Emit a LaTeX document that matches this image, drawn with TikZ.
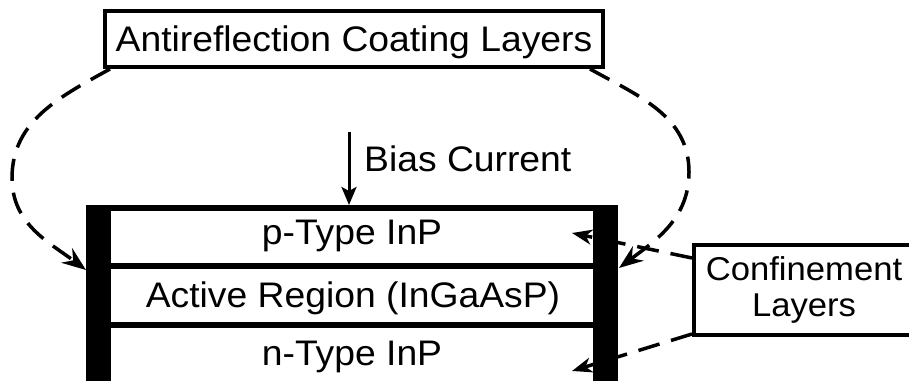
\documentclass[tikz,border=0pt]{standalone}
\usepackage{fontspec}
\setmainfont{Liberation Sans}[FakeStretch=1.05]
\usetikzlibrary{arrows.meta,calc}
\tikzset{
  txt/.style={font=\fontsize{35.5pt}{36pt}\selectfont, inner sep=0pt},
  boxnode/.style={draw, line width=4pt, txt},
  dashline/.style={line width=3.5pt, dash pattern=on 22pt off 12pt},
  bigtip/.style={-{Stealth[length=24pt,width=18pt,inset=8pt]}},
  smalltip/.style={-{Stealth[length=20pt,width=15pt,inset=6pt]}},
  layerline/.style={line width=6pt},
}
\begin{document}
\begin{tikzpicture}[x=1pt,y=1pt]
\path[use as bounding box] (0,0) rectangle (909,380);

% boxes
\node[boxnode, minimum width=498pt, minimum height=56pt, text height=25.4pt, text depth=0pt] (ar) at (354,341) {Antireflection Coating Layers};
\node[boxnode, anchor=north west, minimum width=220pt, minimum height=90pt, align=center, font=\fontsize{33pt}{36pt}\selectfont] (conf) at (692,137) {Confinement\\Layers};

% stack frame
\node[inner sep=0pt, minimum width=532pt, minimum height=180pt, anchor=north west] (stack) at (86,175) {};

% coordinates
\coordinate (arLs) at ($(ar.south west)+(7,0)$);
\coordinate (arLx) at (12,202);
\coordinate (arLt) at (86,110);
\coordinate (arRs) at ($(ar.south east)+(-15,0)$);
\coordinate (arRx) at (689,208);
\coordinate (arRt) at (619,112);
\coordinate (cU) at ($(conf.north west)+(0,-15)$);
\coordinate (cUt) at (572,147);
\coordinate (cL) at ($(conf.south west)+(0,3)$);
\coordinate (cLt) at (572,9);
\coordinate (bs) at (349,248);

% confinement connectors (pass under the bar)
\draw[dashline, smalltip] (cU) -- (cUt);
\draw[dashline, smalltip] (cL) -- (cLt);

% bars and layer lines
\fill (86,-5) rectangle (111,175);
\fill (593,-5) rectangle (618,175);
\draw[layerline] (86,172) -- (618,172);
\draw[layerline] (111,113.5) -- (593,113.5);
\draw[layerline] (111,55) -- (593,55);

% layer labels
\node[txt, anchor=base] (pt) at (352,135) {p-Type InP};
\node[txt, anchor=base] (ac) at (353,73) {Active Region (InGaAsP)};
\node[txt, anchor=base] (nt) at (352,15) {n-Type InP};

% bias current
\draw[line width=3pt, -{Stealth[length=18pt,width=15pt,inset=4pt]}] (bs) -- (bs |- stack.north);
\node[txt, anchor=base west] (bias) at (364,208) {Bias Current};

% antireflection connectors
\draw[dashline, bigtip] (arLs) to[out=209,in=90] (arLx) to[out=-90,in=143] (arLt);
\draw[dashline, bigtip] (arRs) to[out=-29,in=90] (arRx) to[out=-90,in=37] (arRt);
\end{tikzpicture}
\end{document}
